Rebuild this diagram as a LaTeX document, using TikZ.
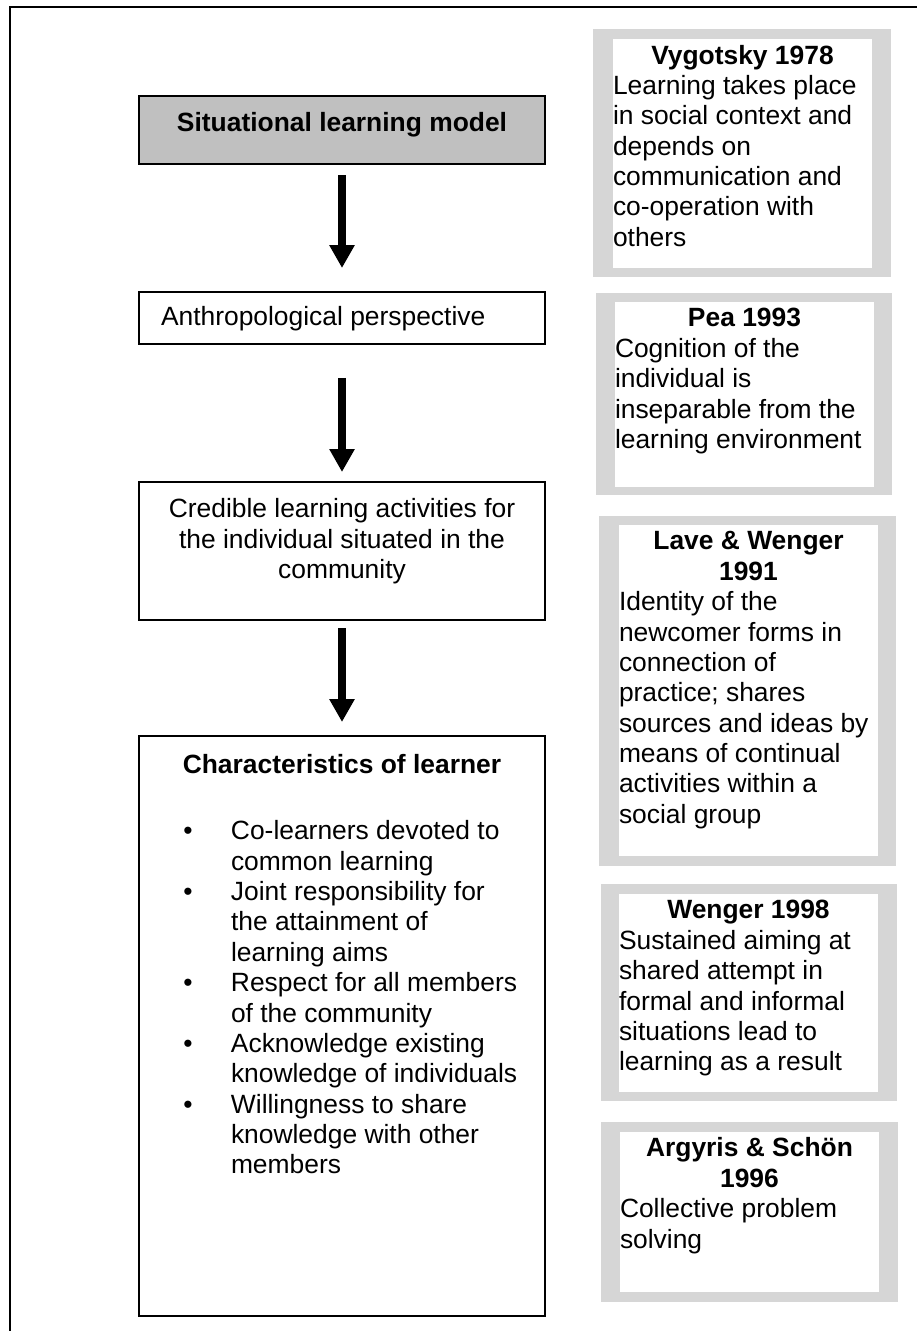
\documentclass[tikz,border=0pt]{standalone}
\usepackage{fontspec}
\setmainfont{Liberation Sans}
\usetikzlibrary{arrows.meta}
\definecolor{boxgray}{RGB}{192,192,192}
\definecolor{bandgray}{RGB}{214,214,214}
% one drawing unit is one pixel of the finished page
\newcommand\pxu{0.454545pt}
% ascent of a 12pt line, so the first baseline sits where a word processor puts it
\newcommand\wstrut{\rule{0pt}{10.86pt}}
% hanging bullet for the list items
\newcommand\blt{\llap{•\hspace{17.4pt}}}
\begin{document}
\begin{tikzpicture}[x=0.454545pt,y=-0.454545pt,
  every node/.style={inner sep=0pt, outer sep=0pt},
  wh/.style 2 args={minimum width=#1*\pxu, minimum height=#2*\pxu},
  txt/.style={font=\fontsize{12pt}{13.8pt}\selectfont},
  flowbox/.style={draw, line width=0.9pt, rectangle},
  band/.style={fill=bandgray, rectangle},
  pane/.style={fill=white, rectangle},
  flowarrow/.style={line width=3.64pt, -{Triangle[width=10.9pt,length=10.45pt]}},
]
\useasboundingbox (0,0) rectangle (917,1331);
\clip (0,0) rectangle (917,1331);

% page frame, running off the right and bottom edges
\draw[line width=0.9pt] (10,7) rectangle (960,1370);

% left column: the flow of boxes
\node[flowbox, fill=boxgray, wh={406}{68}] (b1) at (342,130) {};
\node[flowbox, wh={406}{52}]  (b2) at (342,318) {};
\node[flowbox, wh={406}{138}] (b3) at (342,551) {};
\node[flowbox, wh={406}{580}] (b4) at (342,1026) {};

\node[txt, anchor=north] (t1) at (342,108) {\wstrut\bfseries Situational learning model};
\node[txt, anchor=north west] (t2) at (161,302) {\wstrut Anthropological perspective};
\node[txt, anchor=north, align=center] (t3) at (342,494)
  {\wstrut Credible learning activities for\\ the individual situated in the\\ community};
\node[txt, anchor=north] (t4) at (342,750) {\wstrut\bfseries Characteristics of learner};
\node[txt, anchor=north west, align=left] (t4l) at (231,816)
  {\wstrut\blt Co-learners devoted to\\
   common learning\\
   \blt Joint responsibility for\\
   the attainment of\\
   learning aims\\
   \blt Respect for all members\\
   of the community\\
   \blt Acknowledge existing\\
   knowledge of individuals\\
   \blt Willingness to share\\
   knowledge with other\\
   members};

% arrows between the boxes
\draw[flowarrow, shorten <=5pt,    shorten >=10.9pt] (b1.south) -- (b2.north);
\draw[flowarrow, shorten <=15.45pt, shorten >=4.55pt] (b2.south) -- (b3.north);
\draw[flowarrow, shorten <=3.64pt, shorten >=6.36pt] (b3.south) -- (b4.north);

% right column: sources, each in a grey band around a white pane
\node[band, wh={298}{248}] (vyg)  at (742,153) {};
\node[pane, wh={259}{229}] (vygp) at (742.5,153.5) {};
\node[txt, anchor=north] (vygt) at (742.5,41) {\wstrut\bfseries Vygotsky 1978};
\node[txt, anchor=north west, align=left] (vygb) at (613,70.4)
  {\wstrut Learning takes place\\ in social context and\\ depends on\\ communication and\\ co-operation with\\ others};

\node[band, wh={296}{202}] (pea)  at (744,394) {};
\node[pane, wh={259}{185}] (peap) at (744.5,394.5) {};
\node[txt, anchor=north] (peat) at (744.5,303) {\wstrut\bfseries Pea 1993};
\node[txt, anchor=north west, align=left] (peab) at (615,333.4)
  {\wstrut Cognition of the\\ individual is\\ inseparable from the\\ learning environment};

\node[band, wh={297}{350}] (lav)  at (747.5,691) {};
\node[pane, wh={259}{331}] (lavp) at (748.5,690.5) {};
\node[txt, anchor=north, align=center] (lavt) at (748.5,526) {\wstrut\bfseries Lave \& Wenger\\ \bfseries 1991};
\node[txt, anchor=north west, align=left] (lavb) at (619,586.8)
  {\wstrut Identity of the\\ newcomer forms in\\ connection of\\ practice; shares\\ sources and ideas by\\ means of continual\\ activities within a\\ social group};

\node[band, wh={296}{217}] (wen)  at (749,992.5) {};
\node[pane, wh={259}{198}] (wenp) at (748.5,993) {};
\node[txt, anchor=north] (went) at (748.5,895) {\wstrut\bfseries Wenger 1998};
\node[txt, anchor=north west, align=left] (wenb) at (619,925.4)
  {\wstrut Sustained aiming at\\ shared attempt in\\ formal and informal\\ situations lead to\\ learning as a result};

\node[band, wh={297}{180}] (arg)  at (749.5,1212) {};
\node[pane, wh={259}{160}] (argp) at (749.5,1212) {};
\node[txt, anchor=north, align=center] (argt) at (749.5,1133) {\wstrut\bfseries Argyris \& Schön\\ \bfseries 1996};
\node[txt, anchor=north west, align=left] (argb) at (620,1193.8)
  {\wstrut Collective problem\\ solving};
\end{tikzpicture}
\end{document}
